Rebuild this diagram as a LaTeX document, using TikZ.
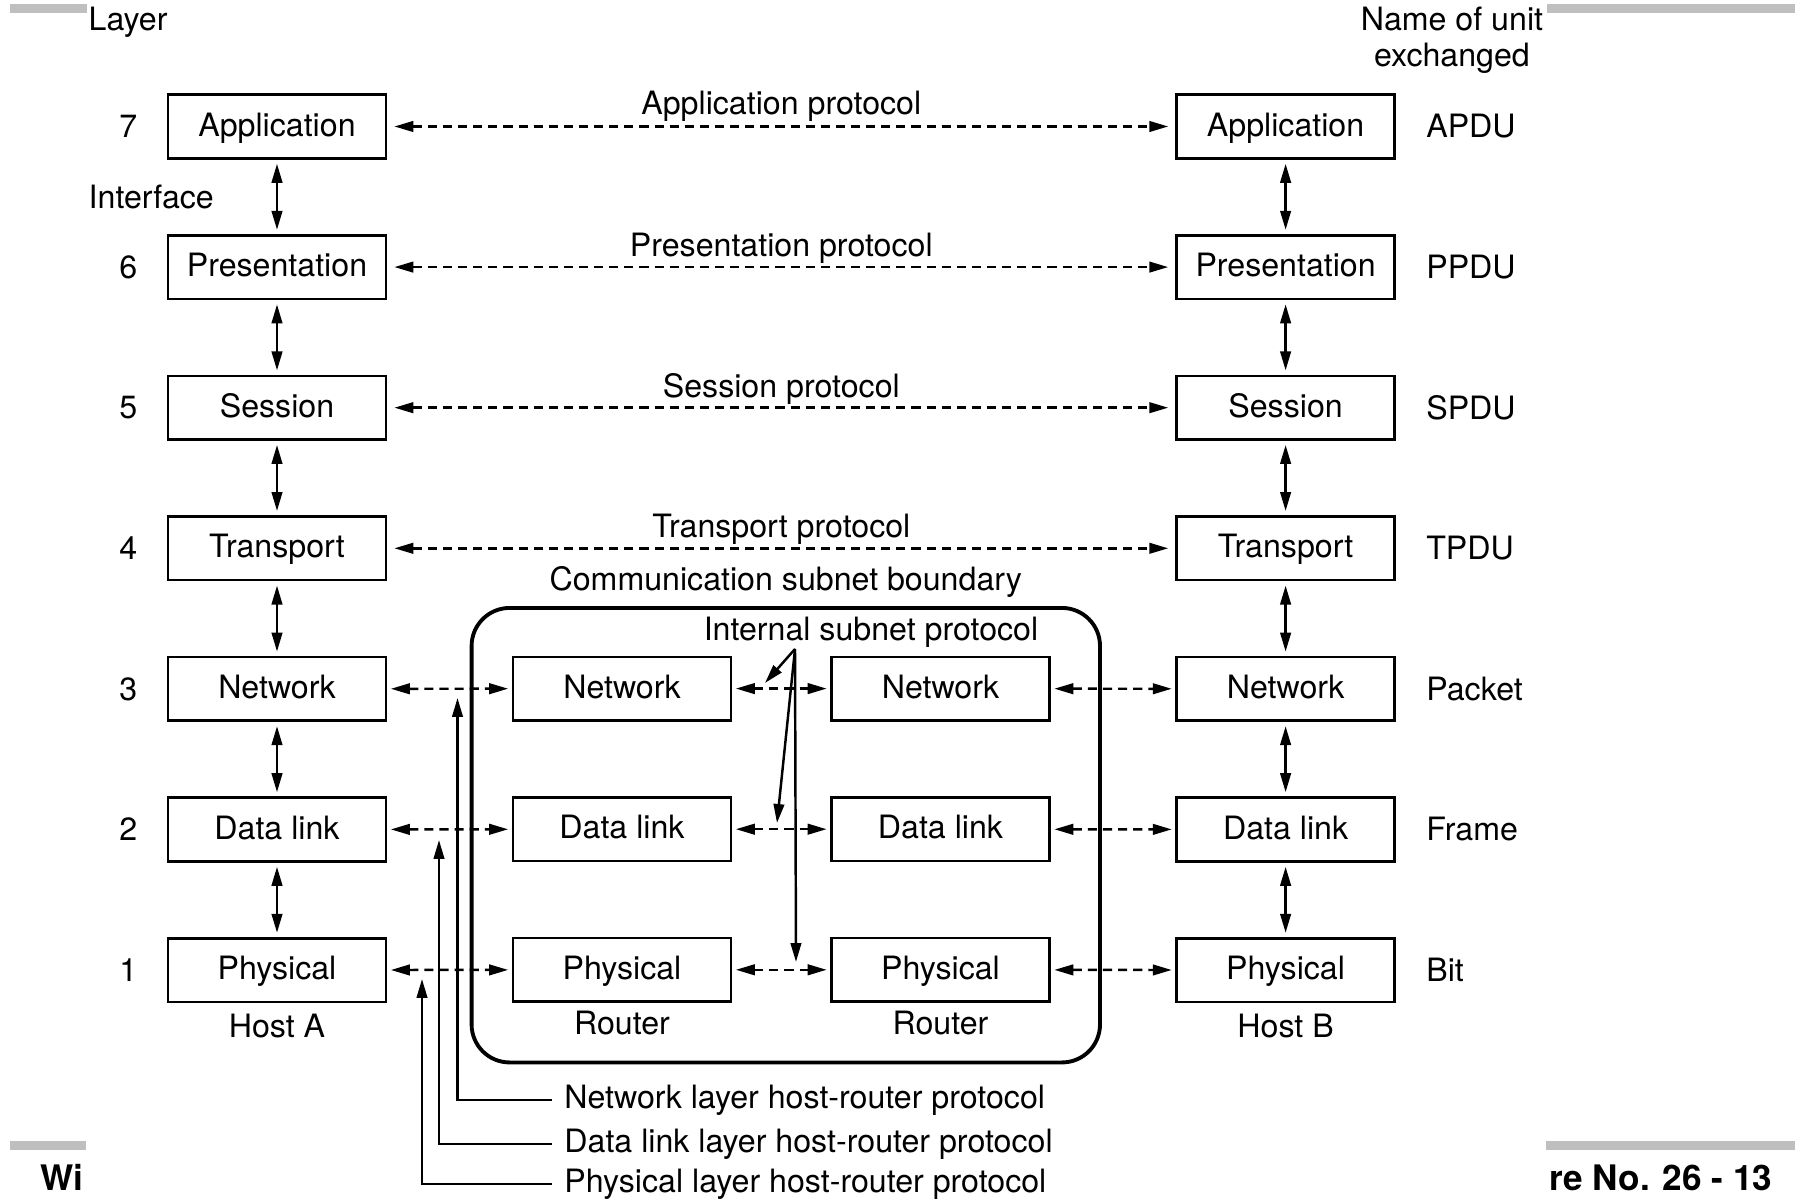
\documentclass[tikz,border=0pt]{standalone}
\usepackage{fontspec}
\setmainfont{TeX Gyre Heros}
\usetikzlibrary{arrows.meta,positioning}

\begin{document}
\begin{tikzpicture}[node distance=1.406cm,>={Triangle[length=5.4pt,width=3pt]},
    font=\fontsize{9.15}{10.3}\selectfont]
  \tikzstyle{osibox}=[rectangle,draw,line width=0.75pt,minimum width=2.18cm,
                      minimum height=0.635cm,text height=0.75em,text depth=0.2em]
  \tikzstyle{iface}=[<->,line width=0.7pt,shorten <=1.2pt,shorten >=1.2pt]
  \tikzstyle{peer}=[<->,line width=0.7pt,dash pattern=on 2.6pt off 1.7pt,
                    shorten <=2pt,shorten >=2pt]
  \tikzstyle{hop}=[peer,shorten <=1pt,shorten >=1pt]
  \tikzstyle{pointer}=[->,line width=0.7pt]
  \tikzstyle{subnet}=[rectangle,draw,line width=1.1pt,rounded corners=0.38cm,
                      minimum width=6.284cm,minimum height=4.545cm]
  \tikzstyle{hrnote}=[anchor=west]
  \tikzstyle{graybar}=[fill=black!25]
  \tikzstyle{slidetext}=[font=\fontsize{10}{12}\selectfont\bfseries,
                         inner sep=0pt,anchor=base west]

  \useasboundingbox (0,0) rectangle (17.95,-11.99);

  % slide remnants
  \fill[graybar] (0.10,-0.04) rectangle (0.87,-0.13);
  \fill[graybar] (15.47,-0.04) rectangle (17.95,-0.13);
  \fill[graybar] (0.10,-11.41) rectangle (0.86,-11.50);
  \fill[graybar] (15.46,-11.41) rectangle (17.95,-11.50);
  \node[slidetext] (slidel) at (0.40,-11.906) {Wi};
  \node[slidetext] (slider) at (15.49,-11.906) {re No. 26 - 13};

  % communication subnet
  \node[subnet,label={[label distance=-1.2pt]above:Communication subnet boundary}]
    (subnet) at (7.858,-8.352) {};

  % host A
  \begin{scope}[xshift=2.77cm,yshift=-1.265cm]
    \node[osibox] (ha7) {Application};
    \node[osibox] (ha6) [below of=ha7] {Presentation}
      edge [iface] (ha7);
    \node[osibox] (ha5) [below of=ha6] {Session}
      edge [iface] (ha6);
    \node[osibox] (ha4) [below of=ha5] {Transport}
      edge [iface] (ha5);
    \node[osibox] (ha3) [below of=ha4] {Network}
      edge [iface] (ha4);
    \node[osibox] (ha2) [below of=ha3] {Data link}
      edge [iface] (ha3);
    \node[osibox] (ha1) [below of=ha2] {Physical}
      edge [iface] (ha2);
  \end{scope}

  % host B
  \begin{scope}[xshift=12.856cm,yshift=-1.265cm]
    \node[osibox] (hb7) {Application};
    \node[osibox] (hb6) [below of=hb7] {Presentation}
      edge [iface] (hb7);
    \node[osibox] (hb5) [below of=hb6] {Session}
      edge [iface] (hb6);
    \node[osibox] (hb4) [below of=hb5] {Transport}
      edge [iface] (hb5);
    \node[osibox] (hb3) [below of=hb4] {Network}
      edge [iface] (hb4);
    \node[osibox] (hb2) [below of=hb3] {Data link}
      edge [iface] (hb3);
    \node[osibox] (hb1) [below of=hb2] {Physical}
      edge [iface] (hb2);
  \end{scope}

  % routers
  \begin{scope}[xshift=6.22cm,yshift=-6.886cm]
    \node[osibox] (rx3) {Network};
    \node[osibox] (rx2) [below of=rx3] {Data link};
    \node[osibox] (rx1) [below of=rx2] {Physical};
  \end{scope}
  \begin{scope}[xshift=9.405cm,yshift=-6.886cm]
    \node[osibox] (ry3) {Network};
    \node[osibox] (ry2) [below of=ry3] {Data link};
    \node[osibox] (ry1) [below of=ry2] {Physical};
  \end{scope}

  % layer numbers, unit names, machine names
  \node (n7) [left=0.17cm of ha7] {7};
  \node (n6) [left=0.17cm of ha6] {6};
  \node (n5) [left=0.17cm of ha5] {5};
  \node (n4) [left=0.17cm of ha4] {4};
  \node (n3) [left=0.17cm of ha3] {3};
  \node (n2) [left=0.17cm of ha2] {2};
  \node (n1) [left=0.17cm of ha1] {1};
  \node (u7) [right=0.18cm of hb7] {APDU};
  \node (u6) [right=0.18cm of hb6] {PPDU};
  \node (u5) [right=0.18cm of hb5] {SPDU};
  \node (u4) [right=0.18cm of hb4] {TPDU};
  \node (u3) [right=0.18cm of hb3] {Packet};
  \node (u2) [right=0.18cm of hb2] {Frame};
  \node (u1) [right=0.18cm of hb1] {Bit};
  \node (hosta) [below=-0.5pt of ha1] {Host A};
  \node (hostb) [below=-0.5pt of hb1] {Host B};
  \node (routerx) [below=-1.2pt of rx1] {Router};
  \node (routery) [below=-1.2pt of ry1] {Router};

  % headings
  \node[anchor=base west,inner sep=0pt] (layerhd) at (0.88,-0.31) {Layer};
  \node[align=center] (unithd) at (14.52,-0.40) {Name of unit\\exchanged};
  \node[anchor=base west,inner sep=0pt] (ifacehd) at (0.88,-2.09) {Interface};

  % peer protocols
  \draw[peer] (ha7) -- node[above,inner sep=1.2pt] {Application protocol} (hb7);
  \draw[peer] (ha6) -- node[above,inner sep=0.6pt] {Presentation protocol} (hb6);
  \draw[peer] (ha5) -- node[above,inner sep=0.6pt] {Session protocol} (hb5);
  \draw[peer] (ha4) -- node[above,inner sep=0.6pt] {Transport protocol} (hb4);

  % hop by hop
  \draw[hop] (ha3) -- (rx3);
  \draw[hop] (rx3) -- (ry3);
  \draw[hop] (ry3) -- (hb3);
  \draw[hop] (ha2) -- (rx2);
  \draw[hop] (rx2) -- (ry2);
  \draw[hop] (ry2) -- (hb2);
  \draw[hop] (ha1) -- (rx1);
  \draw[hop] (rx1) -- (ry1);
  \draw[hop] (ry1) -- (hb1);

  % internal subnet protocol
  \node (isp) at (8.71,-6.32) {Internal subnet protocol};
  \coordinate (ispfoot) at (7.95,-6.49);
  \coordinate (ispnet) at (7.65,-6.83);
  \coordinate (ispdl) at (7.77,-8.23);
  \coordinate (ispph) at (7.96,-9.62);
  \draw[pointer] (ispfoot) -- (ispnet);
  \draw[pointer] (ispfoot) -- (ispdl);
  \draw[pointer] (ispfoot) -- (ispph);

  % host-router protocols
  \node[hrnote] (netnote) at (5.52,-11.0) {Network layer host-router protocol};
  \node[hrnote] (dlnote) at (5.52,-11.44) {Data link layer host-router protocol};
  \node[hrnote] (phnote) at (5.52,-11.84) {Physical layer host-router protocol};
  \coordinate (netend) at (4.575,-6.98);
  \coordinate (dlend) at (4.39,-8.40);
  \coordinate (phend) at (4.22,-9.79);
  \draw[pointer] (netnote.west) -| (netend);
  \draw[pointer] (dlnote.west) -| (dlend);
  \draw[pointer] (phnote.west) -| (phend);
\end{tikzpicture}
\end{document}
